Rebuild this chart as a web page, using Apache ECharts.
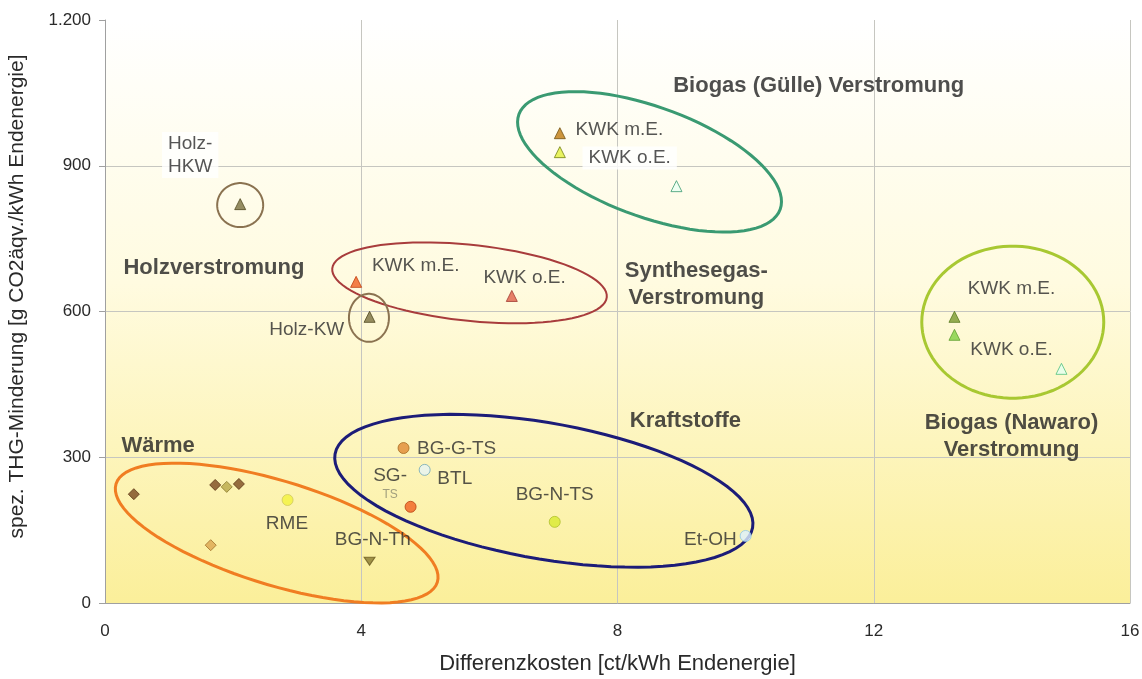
<!DOCTYPE html>
<html>
<head>
    <meta http-equiv="Content-Type" content="text/html; charset=utf-8" />
    <title>THG-Minderung vs. Differenzkosten</title>
    <style>
        html, body { margin: 0; padding: 0; background: #fff; }
        #chart { width: 1142px; height: 679px; }
    </style>
</head>
<body>
    <div id="chart"></div>
    <script src="https://cdn.jsdelivr.net/npm/echarts@6/dist/echarts.min.js"></script>
<script>
    // Daten: [Differenzkosten ct/kWh, THG-Minderung g/kWh]
    var waerme = [[0.45, 224], [1.72, 243], [1.90, 239], [2.09, 245], [1.65, 119]];
    var rme = [[2.85, 212]];
    var bgNTh = [[4.13, 86]];
    var kraftstoffe = [[4.66, 319], [4.99, 274], [4.77, 198], [7.02, 167], [10.0, 138]];
    var guelle = [[7.10, 967], [7.10, 928], [8.92, 858]];
    var holz = [[2.11, 821], [4.13, 589]];
    var synthesegas = [[3.92, 661], [6.35, 632]];
    var nawaro = [[13.26, 589], [13.26, 552], [14.93, 482]];

    var xTicks = [0, 4, 8, 12, 16];
    var yTicks = [0, 300, 600, 900, 1200];

    // Gruppen-Ellipsen: Mittelpunkt in Daten, Halbachsen in px, Drehung in Grad
    var ellipses = [
        [2.68, 144, 168, 52, 17],   // Wärme
        [6.85, 231, 212, 68, 10],   // Kraftstoffe
        [8.50, 908, 139, 55, 20],   // Biogas Gülle
        [5.69, 659, 138, 38, 6],    // Synthesegas
        [2.11, 819, 23, 22, 0],     // Holz-HKW
        [4.12, 587, 20, 24, 0],     // Holz-KW
        [14.17, 578, 91, 76, 0]     // Biogas Nawaro
    ];
    var ellipseColors = ['#f07d22', '#1c1c78', '#3a9a72', '#a83c3c', '#8a7250', '#8a7250', '#a8c832'];
    var ellipseWidths = [3, 3, 3, 2, 2, 2, 3];

    // Beschriftungen
    var groupTitles = [
        ['Biogas (Gülle) Verstromung', 11.14, 1065],
        ['Holzverstromung', 1.70, 690],
        ['Synthesegas-\nVerstromung', 9.23, 655],
        ['Kraftstoffe', 9.06, 375],
        ['Wärme', 0.83, 323],
        ['Biogas (Nawaro)\nVerstromung', 14.15, 342]
    ];
    var pointLabels = [
        ['Holz-\nHKW', 1.33, 922],
        ['KWK m.E.', 8.03, 974],
        ['KWK o.E.', 8.19, 916],
        ['KWK m.E.', 4.85, 694],
        ['KWK o.E.', 6.55, 669],
        ['Holz-KW', 3.15, 562],
        ['KWK m.E.', 14.15, 646],
        ['KWK o.E.', 14.15, 521],
        ['BG-G-TS', 5.49, 317],
        ['SG-', 4.45, 261],
        ['BTL', 5.46, 255],
        ['RME', 2.84, 163],
        ['BG-N-Th', 4.18, 130],
        ['BG-N-TS', 7.02, 222],
        ['Et-OH', 9.45, 130]
    ];
    var smallLabels = [['TS', 4.45, 222]];

    var fontFam = '"Liberation Sans", Arial, sans-serif';
    var textColor = '#2a2a2a';

    function styled(arr, fills, strokes) {
        return arr.map(function (p, i) {
            return { value: p, itemStyle: { color: fills[i], borderColor: strokes[i], borderWidth: 1 } };
        });
    }

    // Label mit weißem Hintergrund (überdeckt die Gitterlinie)
    var whiteBox = { backgroundColor: '#ffffff', padding: [0, 6] };
    var boxedLabels = { 0: whiteBox, 2: whiteBox };

    function textItems(arr, extra) {
        return arr.map(function (t, i) {
            var item = { value: [t[1], t[2]], name: t[0] };
            if (extra && extra[i]) item.label = extra[i];
            return item;
        });
    }

    var myChart = echarts.init(document.getElementById('chart'));
    var option = {
        animation: false,
        grid: {
            left: 105, right: 12, top: 20, bottom: 76,
            outerBoundsMode: 'none',
            containLabel: false,
            show: true,
            borderWidth: 0,
            backgroundColor: new echarts.graphic.LinearGradient(0, 0, 0, 1, [
                { offset: 0, color: '#ffffff' },
                { offset: 0.45, color: '#fffbe0' },
                { offset: 1, color: '#fbef9a' }
            ])
        },
        xAxis: {
            type: 'value', min: 0, max: 16, interval: 4,
            name: 'Differenzkosten [ct/kWh Endenergie]',
            nameLocation: 'middle', nameGap: 50,
            nameTextStyle: { fontFamily: fontFam, fontSize: 22, color: textColor },
            axisLine: { lineStyle: { color: '#a0a0a0' } },
            axisTick: { show: false },
            axisLabel: { fontFamily: fontFam, fontSize: 17, color: textColor, margin: 20 },
            splitLine: { lineStyle: { color: '#c6c6c0' } }
        },
        yAxis: {
            type: 'value', min: 0, max: 1200, interval: 300,
            name: 'spez. THG-Minderung [g CO2äqv./kWh Endenergie]',
            nameLocation: 'middle', nameGap: 77,
            nameTextStyle: { fontFamily: fontFam, fontSize: 21, color: textColor, padding: [0, 0, 0, 30] },
            axisLine: { show: true, lineStyle: { color: '#a0a0a0' } },
            axisTick: { show: true, length: 6, lineStyle: { color: '#a0a0a0' } },
            axisLabel: {
                fontFamily: fontFam, fontSize: 17, color: textColor, margin: 14,
                formatter: function (v) { return v >= 1000 ? Math.floor(v / 1000) + '.' + String(v % 1000).padStart(3, '0') : String(v); }
            },
            splitLine: { lineStyle: { color: ['#c6c6c0', '#c6c6c0', '#c6c6c0', '#c6c6c0', 'rgba(0,0,0,0)'] } }
        },
        series: [
            {
                type: 'custom', name: 'Gruppen', z: 2, silent: true,
                data: ellipses,
                renderItem: function (params, api) {
                    var c = api.coord([api.value(0), api.value(1)]);
                    var a = api.value(2), b = api.value(3), ang = api.value(4) * Math.PI / 180;
                    var pts = [];
                    for (var k = 0; k < 90; k++) {
                        var t = k / 90 * Math.PI * 2;
                        var ex = a * Math.cos(t), ey = b * Math.sin(t);
                        pts.push([c[0] + ex * Math.cos(ang) - ey * Math.sin(ang), c[1] + ex * Math.sin(ang) + ey * Math.cos(ang)]);
                    }
                    return {
                        type: 'polygon', shape: { points: pts },
                        style: { fill: null, stroke: ellipseColors[params.dataIndex], lineWidth: ellipseWidths[params.dataIndex] }
                    };
                }
            },
            {
                type: 'scatter', name: 'Wärme', symbol: 'diamond', symbolSize: 11, z: 5,
                data: styled(waerme,
                    ['#7a4a20', '#7a4a20', '#b8a848', '#7a4a20', '#dca650'],
                    ['#5a3414', '#5a3414', '#8a7a30', '#5a3414', '#a0702a'])
            },
            {
                type: 'scatter', name: 'RME', symbol: 'circle', symbolSize: 11, z: 5,
                data: styled(rme, ['#f2f23c'], ['#d0c860'])
            },
            {
                type: 'scatter', name: 'BG-N-Th', symbol: 'triangle', symbolRotate: 180, symbolSize: [11, 8], z: 5,
                data: styled(bgNTh, ['#8a7a30'], ['#6a5a20'])
            },
            {
                type: 'scatter', name: 'Kraftstoffe', symbol: 'circle', symbolSize: 11, z: 5,
                data: styled(kraftstoffe,
                    ['#e08a34', '#e6f4f4', '#f06020', '#d8ea30', '#dcf0ff'],
                    ['#a86a20', '#70a8b8', '#b84010', '#b0c030', '#90c8e8'])
            },
            {
                type: 'scatter', name: 'Gülle', symbol: 'triangle', symbolSize: 11, z: 5,
                data: styled(guelle, ['#c07a10', '#e4f03c', '#eafff2'], ['#705010', '#708010', '#3a9a70'])
            },
            {
                type: 'scatter', name: 'Holz', symbol: 'triangle', symbolSize: 11, z: 5,
                data: styled(holz, ['#7a7040', '#7a7040'], ['#504820', '#504820'])
            },
            {
                type: 'scatter', name: 'Synthesegas', symbol: 'triangle', symbolSize: 11, z: 5,
                data: styled(synthesegas, ['#f06020', '#e0604a'], ['#c04010', '#a03a30'])
            },
            {
                type: 'scatter', name: 'Nawaro', symbol: 'triangle', symbolSize: 11, z: 5,
                data: styled(nawaro, ['#7a9a30', '#80d040', '#e4fff0'], ['#5a7a20', '#60a030', '#50c080'])
            },
            {
                type: 'scatter', name: 'Titel', symbolSize: 0, z: 6, silent: true,
                label: {
                    show: true, position: 'inside', formatter: '{b}',
                    fontFamily: fontFam, fontSize: 22, fontWeight: 'bold', color: '#222', lineHeight: 27
                },
                data: textItems(groupTitles)
            },
            {
                type: 'scatter', name: 'Labels', symbolSize: 0, z: 6, silent: true,
                label: {
                    show: true, position: 'inside', formatter: '{b}',
                    fontFamily: fontFam, fontSize: 19, color: textColor, lineHeight: 23
                },
                data: textItems(pointLabels, boxedLabels)
            },
            {
                type: 'scatter', name: 'Klein', symbolSize: 0, z: 6, silent: true,
                label: {
                    show: true, position: 'inside', formatter: '{b}',
                    fontFamily: fontFam, fontSize: 12, color: '#8a8a70'
                },
                data: textItems(smallLabels)
            }
        ]
    };
    myChart.setOption(option);
</script>
</body>
</html>
